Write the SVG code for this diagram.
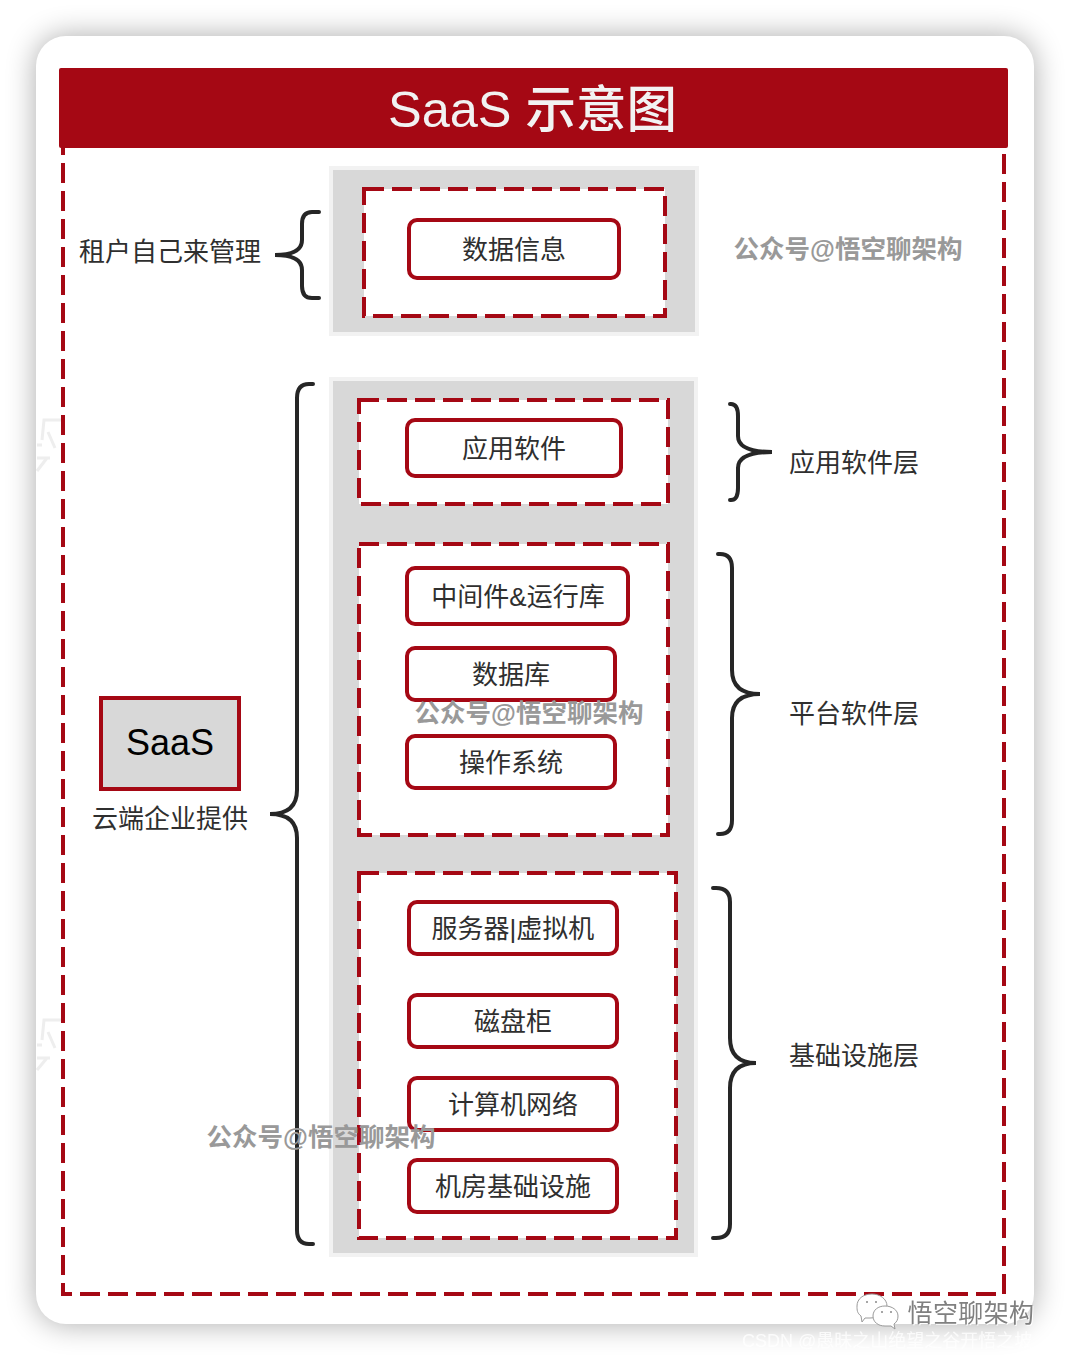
<svg xmlns="http://www.w3.org/2000/svg" width="1070" height="1360" viewBox="0 0 1070 1360">
<defs>
<filter id="sh" x="-10%" y="-10%" width="120%" height="120%"><feGaussianBlur stdDeviation="15"/></filter>
<style>
text{font-family:"Liberation Sans","Noto Sans CJK SC",sans-serif;text-anchor:middle;fill:#2f2f2f;font-size:26px}
.dash{fill:#fff;stroke:#a50814;stroke-width:4;stroke-dasharray:20 8}
.box{fill:#fff;stroke:#a50814;stroke-width:4}
.panel{fill:#d8d8d8;stroke:#f2f2f2;stroke-width:4}
.brace{fill:none;stroke:#262626;stroke-width:4;stroke-linecap:round}
.wm{fill:#999;font-weight:700;font-size:25.5px}
.ghost{fill:none;stroke:#eeeeee;stroke-width:3}
.bubble{fill:#fff;stroke:#9a9a9a;stroke-width:1}
</style>
</defs>
<rect x="36" y="36" width="998" height="1288" rx="30" fill="#000" opacity=".33" filter="url(#sh)"/>
<rect x="36" y="36" width="998" height="1288" rx="30" fill="#fff"/>
<path class="ghost" d="M62 420H44L42 440M48 432L55 448M37 445H42M37 458H50M47 458L37 471"/>
<path class="ghost" d="M62 1020H44L42 1040M48 1032L55 1048M37 1045H42M37 1058H50M47 1058L37 1070"/>
<g id="frame"><path d="M63 135V1294H1004V100" fill="none" stroke="#a50814" stroke-width="4" stroke-dasharray="20 8"/></g>
<g id="title"><rect x="59" y="68" width="949" height="80" rx="2" fill="#a50814"/><text x="532.5" y="127" style="font-size:50.5px;fill:#f2f2f2;font-weight:500">SaaS 示意图</text></g>

<g id="panel-tenant"><rect class="panel" x="331" y="168" width="366" height="166"/><rect class="dash" x="364" y="189" width="301" height="127"/></g>
<g id="panel-cloud"><rect class="panel" x="331" y="379" width="365" height="876"/>
<rect class="dash" x="359" y="400" width="309" height="104"/>
<rect class="dash" x="359" y="544" width="309" height="291"/>
<rect class="dash" x="359" y="873" width="317" height="365"/></g>

<g id="n-data"><rect class="box" x="409" y="220" width="210" height="58" rx="8"/><text x="514" y="259">数据信息</text></g>
<g id="n-app"><rect class="box" x="407" y="420" width="214" height="56" rx="8"/><text x="514" y="458">应用软件</text></g>
<g id="n-mid"><rect class="box" x="407" y="568" width="221" height="56" rx="8"/><text x="518" y="606">中间件&amp;运行库</text></g>
<g id="n-db"><rect class="box" x="407" y="648" width="208" height="52" rx="8"/><text x="511" y="684">数据库</text></g>
<g id="n-os"><rect class="box" x="407" y="736" width="208" height="52" rx="8"/><text x="511" y="772">操作系统</text></g>
<g id="n-vm"><rect class="box" x="409" y="902" width="208" height="52" rx="8"/><text x="513" y="938">服务器|虚拟机</text></g>
<g id="n-disk"><rect class="box" x="409" y="995" width="208" height="52" rx="8"/><text x="513" y="1031">磁盘柜</text></g>
<g id="n-net"><rect class="box" x="409" y="1078" width="208" height="52" rx="8"/><text x="513" y="1114">计算机网络</text></g>
<g id="n-room"><rect class="box" x="409" y="1160" width="208" height="52" rx="8"/><text x="513" y="1196">机房基础设施</text></g>
<g id="n-saas"><rect x="101" y="698" width="138" height="91" fill="#d8d8d8" stroke="#a50814" stroke-width="4"/><text x="170" y="755" style="font-size:36px;fill:#000">SaaS</text></g>

<g id="connectors">
<path class="brace" d="M319 212H312Q302 212 302 224V240Q302 255 275 255Q302 255 302 270V286Q302 298 312 298H319"/>
<path class="brace" d="M313 384H309Q297 384 297 398V790Q297 814 270 814Q297 814 297 838V1230Q297 1244 309 1244H313"/>
<path class="brace" d="M730 404H731Q738 404 738 416V436Q738 452 772 452Q738 452 738 468V488Q738 500 731 500H730"/>
<path class="brace" d="M718 554H720Q732 554 732 568V670Q732 694 760 694Q732 694 732 718V820Q732 834 720 834H718"/>
<path class="brace" d="M713 888H716Q730 888 730 902V1038Q730 1063 756 1063Q730 1063 730 1088V1224Q730 1238 716 1238H713"/>
</g>

<text id="l-tenant" x="170" y="261">租户自己来管理</text>
<text id="l-cloud" x="170" y="828">云端企业提供</text>
<text id="l-applayer" x="854" y="472">应用软件层</text>
<text id="l-platform" x="854" y="723">平台软件层</text>
<text id="l-infra" x="854" y="1065">基础设施层</text>

<text class="wm" x="848" y="258">公众号@悟空聊架构</text>
<text class="wm" x="529" y="722">公众号@悟空聊架构</text>
<text class="wm" x="321" y="1146">公众号@悟空聊架构</text>
<g id="wechat-mark">
<path class="bubble" d="M887 1306C887 1313 879 1318 870 1318L865 1318L862 1322L861 1316C857 1313 857 1310 857 1306C857 1299 863 1294 872 1294C880 1294 887 1299 887 1306Z"/>
<path class="bubble" d="M898 1316C898 1310 892 1306 885 1306C878 1306 873 1310 873 1316C873 1322 878 1326 885 1326L891 1326L895 1329L894 1324C897 1322 898 1319 898 1316Z"/>
<circle cx="867" cy="1302" r="1" fill="#888"/><circle cx="876" cy="1302" r="1" fill="#888"/><circle cx="882" cy="1312" r="1" fill="#888"/><circle cx="891" cy="1312" r="1" fill="#888"/>
</g>
<text x="971" y="1322" style="font-size:25px;letter-spacing:.4px;fill:#808080;filter:drop-shadow(1px 1px 0 #fff)">悟空聊架构</text>
<text x="742" y="1347" style="font-size:18px;text-anchor:start;fill:#fff;opacity:.8">CSDN @愚昧之山绝望之谷开悟之坡</text>
</svg>
